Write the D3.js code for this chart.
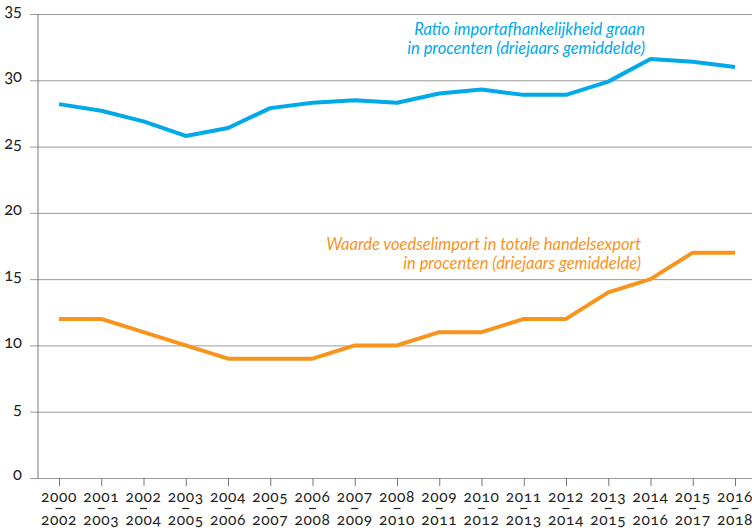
<!DOCTYPE html>
<html lang="nl">
<head>
    <meta charset="UTF-8">
    <title>Importafhankelijkheid</title>
    <script src="https://d3js.org/d3.v7.min.js"></script>
    <style>
        body { margin: 0; background: #fff; }
        svg text { font-family: Lato, 'Open Sans', sans-serif; font-variant-numeric: oldstyle-nums; }
        .note { font-style: italic; font-size: 16.5px; }
    </style>
</head>
<body>
    <div id="chart"></div>
    <script>
        // periods (start - end of three-year window)
        const startYears = d3.range(2000, 2017);
        const endYears = startYears.map(d => d + 2);

        const graan = [28.2, 27.7, 26.9, 25.8, 26.4, 27.9, 28.3, 28.5, 28.3, 29.0, 29.3, 28.9, 28.9, 29.9, 31.6, 31.4, 31.0];
        const voedsel = [12, 12, 11, 10, 9, 9, 9, 10, 10, 11, 11, 12, 12, 14, 15, 17, 17];

        const yTicks = [0, 5, 10, 15, 20, 25, 30, 35];

        const width = 752, height = 530;
        const m = { left: 38, right: 752, top: 14, bottom: 478 };

        const svg = d3.select('#chart').append('svg')
            .attr('width', width)
            .attr('height', height);

        const x = d3.scalePoint().domain(startYears).range([59, 735]);
        const y = d3.scaleLinear().domain([0, 35]).range([m.bottom, m.top]);

        // grid + y labels
        const yAxis = svg.append('g')
            .attr('transform', `translate(${m.left},0)`)
            .call(d3.axisLeft(y).tickValues(yTicks).tickSize(-(m.right - m.left)).tickPadding(16).tickSizeOuter(0));
        yAxis.select('.domain').remove();
        yAxis.selectAll('.tick line').attr('stroke', '#9a9a9a').attr('x1', -8);
        yAxis.selectAll('.tick text').attr('font-size', 16.5).attr('fill', '#222').attr('dy', '0.1em');

        svg.append('line')
            .attr('x1', m.left).attr('x2', m.left)
            .attr('y1', m.top).attr('y2', m.bottom)
            .attr('stroke', '#777');

        // x ticks
        const xAxis = svg.append('g')
            .attr('transform', `translate(0,${m.bottom})`)
            .call(d3.axisBottom(x).tickSize(8).tickFormat(''));
        xAxis.select('.domain').remove();
        xAxis.selectAll('.tick line').attr('stroke', '#777');

        // two-line period labels with a small dash in between
        const per = svg.append('g').selectAll('g')
            .data(startYears)
            .join('g')
            .attr('transform', d => `translate(${x(d)},0)`);
        per.append('text')
            .attr('y', 502)
            .attr('text-anchor', 'middle')
            .attr('font-size', 15.5)
            .attr('letter-spacing', 0.6)
            .attr('fill', '#222')
            .text(d => d);
        per.append('line')
            .attr('x1', -3.5).attr('x2', 3.5)
            .attr('y1', 508.5).attr('y2', 508.5)
            .attr('stroke', '#222')
            .attr('stroke-width', 1.2);
        per.append('text')
            .attr('y', 525)
            .attr('text-anchor', 'middle')
            .attr('font-size', 15.5)
            .attr('letter-spacing', 0.6)
            .attr('fill', '#222')
            .text((d, i) => endYears[i]);

        const line = d3.line()
            .x((d, i) => x(startYears[i]))
            .y(d => y(d));

        svg.append('path')
            .datum(graan)
            .attr('fill', 'none')
            .attr('stroke', '#00a9e8')
            .attr('stroke-width', 4)
            .attr('stroke-linejoin', 'round')
            .attr('d', line);

        svg.append('path')
            .datum(voedsel)
            .attr('fill', 'none')
            .attr('stroke', '#f7941d')
            .attr('stroke-width', 4)
            .attr('stroke-linejoin', 'round')
            .attr('d', line);

        // annotations
        const blueNote = svg.append('text').attr('class', 'note')
            .attr('text-anchor', 'end').attr('fill', '#00a9e8');
        blueNote.append('tspan').attr('x', 645).attr('y', 35).text('Ratio importafhankelijkheid graan');
        blueNote.append('tspan').attr('x', 645).attr('y', 54).text('in procenten (driejaars gemiddelde)');

        const orangeNote = svg.append('text').attr('class', 'note')
            .attr('text-anchor', 'end').attr('fill', '#f7941d');
        orangeNote.append('tspan').attr('x', 641).attr('y', 250).text('Waarde voedselimport in totale handelsexport');
        orangeNote.append('tspan').attr('x', 641).attr('y', 269).text('in procenten (driejaars gemiddelde)');
    </script>
</body>
</html>
